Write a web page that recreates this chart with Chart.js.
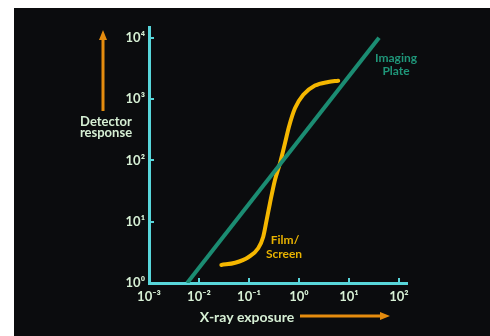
<!DOCTYPE html>
<html>
<head>
<meta charset="utf-8">
<script src="https://cdn.jsdelivr.net/npm/chart.js@4.4.1/dist/chart.umd.min.js"></script>
<style>
    html, body { margin: 0; padding: 0; background: #fff; }
    #wrap { position: absolute; left: 14px; top: 8px; width: 476px; height: 328px; background: #0b0c0e; }
</style>
</head>
<body>
<div id="wrap"><canvas id="chart"></canvas></div>
<script>
// X-ray exposure tick positions and labels
const xTickValues = [0.001, 0.01, 0.1, 1, 10, 100];
const xTickLabels = ['10⁻³', '10⁻²', '10⁻¹', '10⁰', '10¹', '10²'];
// Detector response ticks
const yTickValues = [1, 10, 100, 1000, 10000];
const yTickLabels = ['10⁰', '10¹', '10²', '10³', '10⁴'];

// Imaging plate: straight line in log-log
const plateX = [0.0058, 40];
const plateY = [1, 10000];

// Film/Screen: S-shaped characteristic curve
const filmX = [0.028, 0.053, 0.097, 0.153, 0.193, 0.226, 0.263, 0.331, 0.417, 0.525, 0.631, 0.832, 1.22, 2.09, 3.85, 6.1];
const filmY = [1.97, 2.14, 2.63, 3.69, 5.7, 10.7, 20, 48, 90, 191, 355, 708, 1175, 1660, 1905, 1995];

const axisColor = '#58d6da';
const labelColor = '#d6efd4';
const plateColor = '#1b8c72';
const filmColor = '#f5b700';
const arrowColor = '#e58c0e';

function toPoints(xs, ys) {
    return xs.map((x, i) => ({ x: x, y: ys[i] }));
}

function drawArrow(ctx, x1, y1, x2, y2) {
    const ang = Math.atan2(y2 - y1, x2 - x1);
    const head = 10;
    ctx.beginPath();
    ctx.moveTo(x1, y1);
    ctx.lineTo(x2 - Math.cos(ang) * head * 0.8, y2 - Math.sin(ang) * head * 0.8);
    ctx.stroke();
    ctx.beginPath();
    ctx.moveTo(x2, y2);
    ctx.lineTo(x2 - head * Math.cos(ang) + 4 * Math.sin(ang), y2 - head * Math.sin(ang) - 4 * Math.cos(ang));
    ctx.lineTo(x2 - head * Math.cos(ang) - 4 * Math.sin(ang), y2 - head * Math.sin(ang) + 4 * Math.cos(ang));
    ctx.closePath();
    ctx.fill();
}

// titles, arrows and curve labels
const notes = {
    id: 'notes',
    afterDatasetsDraw(chart) {
        const ctx = chart.ctx;
        ctx.save();
        ctx.strokeStyle = arrowColor;
        ctx.fillStyle = arrowColor;
        ctx.lineWidth = 3;
        drawArrow(ctx, 89, 103, 89, 22);
        drawArrow(ctx, 286, 308, 376, 308);

        ctx.textAlign = 'center';
        ctx.textBaseline = 'middle';
        ctx.fillStyle = labelColor;
        ctx.font = 'bold 13px Lato, "Open Sans", sans-serif';
        ctx.fillText('Detector', 92, 114);
        ctx.fillText('response', 92, 125);
        ctx.font = 'bold 14px Lato, "Open Sans", sans-serif';
        ctx.fillText('X-ray exposure', 233, 309);

        ctx.font = 'bold 12px Lato, "Open Sans", sans-serif';
        ctx.fillStyle = '#1f9679';
        ctx.fillText('Imaging', 382, 50);
        ctx.fillText('Plate', 382, 63);
        ctx.fillStyle = '#e8b200';
        ctx.fillText('Film/', 271, 232);
        ctx.fillText('Screen', 270, 246);
        ctx.restore();
    }
};

const tickFont = { family: 'Lato, "Open Sans", sans-serif', size: 13, weight: 'bold' };

new Chart(document.getElementById('chart'), {
    type: 'scatter',
    data: {
        datasets: [
            {
                label: 'Imaging Plate',
                data: toPoints(plateX, plateY),
                showLine: true,
                borderColor: plateColor,
                borderWidth: 4,
                pointRadius: 0
            },
            {
                label: 'Film/Screen',
                data: toPoints(filmX, filmY),
                showLine: true,
                borderColor: filmColor,
                borderWidth: 4,
                borderCapStyle: 'round',
                cubicInterpolationMode: 'monotone',
                pointRadius: 0
            }
        ]
    },
    options: {
        responsive: true,
        maintainAspectRatio: false,
        animation: false,
        layout: { padding: { left: 0, top: 19, right: 83, bottom: 0 } },
        plugins: {
            legend: { display: false },
            tooltip: { enabled: false }
        },
        scales: {
            x: {
                type: 'logarithmic',
                min: 0.001,
                max: 145,
                afterBuildTicks: s => { s.ticks = xTickValues.map(v => ({ value: v })); },
                afterFit: s => { s.height = 53; },
                border: { display: true, color: axisColor, width: 3 },
                grid: { drawOnChartArea: false, color: axisColor, lineWidth: 2, tickLength: -5 },
                ticks: {
                    autoSkip: false,
                    maxRotation: 0,
                    color: labelColor,
                    font: tickFont,
                    padding: 11,
                    callback: (v, i) => xTickLabels[i]
                }
            },
            y: {
                type: 'logarithmic',
                min: 1,
                max: 15000,
                afterBuildTicks: s => { s.ticks = yTickValues.map(v => ({ value: v })); },
                afterFit: s => { s.width = 135; },
                border: { display: true, color: axisColor, width: 3 },
                grid: { drawOnChartArea: false, color: axisColor, lineWidth: 2, tickLength: -5 },
                ticks: {
                    autoSkip: false,
                    color: labelColor,
                    font: tickFont,
                    padding: 9,
                    callback: (v, i) => yTickLabels[i]
                }
            }
        }
    },
    plugins: [notes]
});
</script>
</body>
</html>
